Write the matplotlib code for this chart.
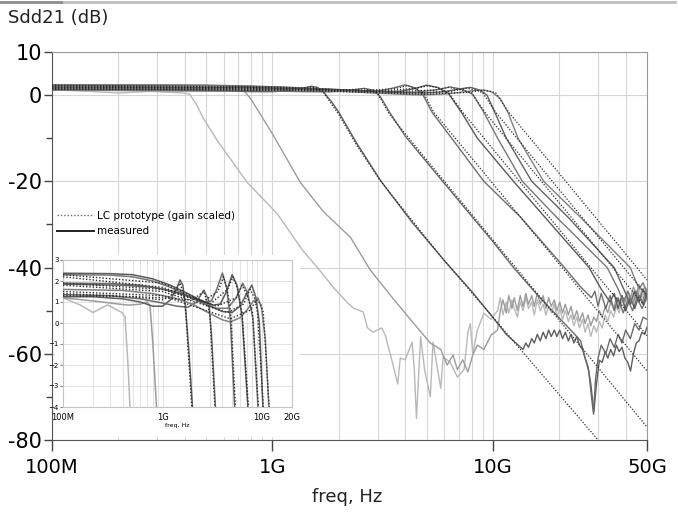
import matplotlib
matplotlib.use("Agg")
import matplotlib.pyplot as plt
from matplotlib.lines import Line2D
from matplotlib.ticker import LogLocator, NullFormatter

plt.rcParams['font.family'] = ['DejaVu Sans']

# all frequencies in GHz, gains in dB
# shared frequency grid for the noisy floor above 10 GHz
band_f = [10.5, 10.8, 11.1, 11.5, 11.8, 12.2, 12.5, 12.9, 13.3, 13.7, 14.1, 14.5, 15.0, 15.4, 15.9, 16.4, 16.9, 17.4,
          17.9, 18.4, 19.0, 19.5, 20.1, 20.7, 21.3, 22.0, 22.6, 23.3, 24.0, 24.7, 25.5, 26.2, 27.0, 27.8, 28.7, 29.5,
          30.4, 31.3, 32.3, 33.2, 34.2, 35.3, 36.3, 37.4, 38.5, 39.7, 40.9, 42.1, 43.4, 44.7, 46.0, 47.4, 48.8, 50.0]

m1_lo_f = [0.1, 0.15, 0.2, 0.28, 0.39, 0.42, 0.45, 0.485, 0.563, 0.77, 1.05, 1.37, 1.6, 1.89, 2.2, 2.33, 2.58, 2.7,
           2.86, 3.13, 3.25, 3.5, 3.7, 3.8, 4.0, 4.3, 4.4, 4.5, 4.7, 4.9, 5.2, 5.35, 5.8, 5.95, 6.4, 6.9, 7.4, 7.7,
           7.9, 8.1, 8.5, 9.1, 9.8]
m1_lo_db = [1.2, 0.85, 0.5, 0.86, 0.5, 0.3, -2.0, -5.3, -10.6, -20.3, -27.5, -36, -40, -44.6, -48.3, -49.4, -50.3, -54,
            -55, -54, -55.7, -62, -67, -61, -61.4, -57.3, -63.7, -75, -56, -63.7, -70, -57.3, -68, -60.7, -62, -65.4,
            -63.7, -55, -53, -60, -54.5, -50.6, -52]
m1_hi_db = [-50, -47, -51, -48, -50.5, -47.5, -49.5, -51.5, -48, -50, -47, -49.5, -48, -51, -47.5, -50, -48.5, -51,
            -49, -50.5, -48.5, -51.5, -49.5, -52, -50, -52.5, -51, -53.5, -51.5, -54, -52, -55, -53, -56, -53.5, -55,
            -52.5, -54, -51, -52.5, -50, -51.5, -49, -50.5, -47.5, -49.5, -46.5, -48.5, -45.5, -47.5, -45, -47, -45.5,
            -46.5]

m2_lo_f = [0.1, 0.2, 0.3, 0.45, 0.6, 0.7, 0.75, 0.8, 0.87, 1.0, 1.34, 1.7, 2.26, 2.78, 3.5, 4.3, 5.2, 5.8, 6.2, 6.6,
           6.9, 7.3, 7.7, 8.1, 8.5, 9.1, 9.8]
m2_lo_db = [1.2, 1.05, 0.95, 0.85, 0.9, 1.0, 0.8, -1.0, -4, -9, -20.3, -27, -33, -40.6, -47, -52.5, -57.5, -59, -62.6,
            -60.3, -63.7, -61.4, -64.2, -60.3, -58, -59, -55.7]
m2_hi_db = [-54.5, -50, -47.5, -50.5, -46.5, -49.5, -47, -50, -46.5, -49, -46, -48.5, -46.5, -49, -46, -48.5, -46.5,
            -49.5, -47, -49, -47.5, -50, -48, -50.5, -48.5, -51, -49, -52, -50, -52.5, -50.5, -53, -51, -53.5, -51.5,
            -52.5, -50, -51.5, -49, -50.5, -48, -49.5, -47, -48.5, -46.5, -48, -45.5, -47, -44.5, -46, -44, -45.5,
            -44.5, -45.5]

m3_lo_f = [0.1, 0.2, 0.4, 0.6, 0.8, 1.0, 1.2, 1.4, 1.5, 1.6, 1.7, 1.85, 2.0, 2.4, 3.1, 4.3, 6.0, 8.0, 9.8, 11.5]
m3_lo_db = [1.25, 1.25, 1.15, 1.0, 0.8, 0.8, 1.1, 1.7, 2.05, 1.8, 0.8, -1.5, -4, -11, -19.9, -29.5, -38.3, -45.5,
            -51, -55.5]
# dark floor, on band_f from 13.7 GHz on
m3_hi_db = [-59, -57.5, -58.5, -56.5, -57.5, -55.5, -57, -55, -56.5, -54.5, -56, -54.5, -56, -54.5, -56.5, -55, -57,
            -55.5, -57.5, -56, -58, -59, -61, -63, -67, -73.5, -67, -61.5, -62, -59.5, -61, -59, -60.5, -58, -59.5,
            -58.5, -61, -62, -64, -60, -57.5, -57, -55, -55.5, -53.8]
p3_f = [0.1, 0.5, 1.0, 1.3, 1.5, 1.62, 1.71, 2.0, 2.4, 3.1, 6.0, 9.8, 30]
p3_db = [1.3, 1.25, 1.1, 1.4, 1.9, 1.4, 0.5, -4.5, -11.5, -20, -38.3, -51, -80]

m4_f = [0.1, 0.3, 0.6, 1.0, 1.4, 1.8, 2.2, 2.6, 2.9, 3.1, 3.4, 4.0, 5.0, 7.0, 10, 12.4, 16, 21.6, 23.5, 25,
        26.2, 27.2, 28, 28.6, 29.2, 30, 31, 32.5, 34, 35.5, 37, 38.5, 40, 42, 44, 46, 48, 50]
m4_db = [1.35, 1.3, 1.15, 0.95, 0.8, 0.75, 1.0, 1.57, 1.1, -0.5, -4, -9.5, -15.5, -24.5, -34, -40, -46.5, -53.5, -55.5,
         -57, -61, -64, -70, -74, -66, -61, -58, -60, -56.5, -58.5, -55.5, -57.5, -54.5, -56.5, -53, -54.5, -51.5, -52]
p4_f = [0.1, 1.0, 2.0, 2.6, 2.85, 3.0, 3.4, 5.0, 10, 21.6, 50]
p4_db = [1.4, 1.2, 1.1, 1.5, 0.9, 0.3, -4.5, -15, -33.6, -54.3, -77]

m5_f = [0.1, 0.3, 0.6, 1.0, 1.5, 2.0, 2.6, 3.1, 3.5, 4.0, 4.4, 4.8, 5.3, 6.5, 9.1, 13.4, 21.1, 25, 28, 29,
        30, 31, 32.5, 34, 35.5, 37, 39, 41, 43, 45, 47.5, 50]
m5_db = [1.9, 1.88, 1.8, 1.62, 1.4, 1.2, 1.0, 1.05, 1.6, 2.38, 1.7, 0.2, -4, -10, -20, -28.4, -40, -44.5, -47, -45.5,
         -49, -46, -49.5, -46.5, -50, -47, -50.5, -47.5, -50, -47, -49.5, -47]
p5_f = [0.1, 1.0, 2.5, 3.6, 4.1, 4.5, 4.85, 5.4, 9.8, 20.6, 50]
p5_db = [1.9, 1.6, 1.0, 1.5, 2.2, 1.5, 0.5, -4, -20, -40, -64]

m6_f = [0.1, 0.3, 0.5, 0.8, 1.2, 1.8, 2.5, 3.2, 3.8, 4.4, 5.0, 5.6, 6.3, 7.2, 8.5, 12.4, 17, 27.3, 31, 34,
        35.5, 37, 38.5, 40, 42, 44, 46, 48, 50]
m6_db = [2.37, 2.35, 2.3, 2.1, 1.8, 1.4, 1.05, 0.85, 0.9, 1.5, 2.3, 1.8, 0.3, -4, -10, -20, -28, -40, -45, -48,
         -46, -49.5, -46.5, -50, -47, -49.5, -46.5, -48.5, -46]
p6_f = [0.1, 1.0, 3.0, 4.5, 5.1, 5.7, 6.3, 7.3, 13.2, 27.8, 50]
p6_db = [2.3, 1.9, 0.9, 1.6, 2.2, 1.6, 0.5, -4, -20, -40, -55.8]

m7_f = [0.1, 0.3, 0.5, 0.8, 1.2, 1.8, 2.5, 3.5, 4.5, 5.5, 6.4, 7.2, 8.1, 9.1, 10.5, 13.6, 19.5, 33, 37, 39,
        41, 43, 45, 47.5, 50]
m7_db = [2.3, 2.28, 2.2, 2.0, 1.7, 1.3, 0.95, 0.7, 0.7, 1.2, 1.9, 1.4, 0.2, -4, -10, -20, -28.4, -40, -45, -48,
         -45.5, -48.5, -45.5, -48, -45]
p7_f = [0.1, 1.0, 3.5, 5.5, 6.3, 7.1, 8.0, 9.2, 16.6, 35, 50]
p7_db = [2.2, 1.7, 0.8, 1.2, 1.8, 1.3, 0.5, -4, -20, -40, -49.6]

m8_f = [0.1, 0.4, 0.8, 1.3, 2.0, 3.0, 4.0, 5.0, 6.0, 7.0, 7.9, 8.7, 9.4, 10.2, 11.5, 15, 22, 35.5, 40, 42,
        44, 46, 48, 50]
m8_db = [1.85, 1.8, 1.7, 1.5, 1.2, 0.8, 0.55, 0.5, 0.8, 1.4, 1.8, 1.2, 0.0, -4, -10, -20, -28.4, -40, -46, -48.5,
         -45.5, -48, -45, -47]
p8_f = [0.1, 1.0, 4.5, 6.5, 7.6, 8.4, 9.0, 10.3, 18.6, 39.2, 50]
p8_db = [1.8, 1.5, 0.5, 0.9, 1.6, 1.2, 0.5, -4, -20, -40, -46.5]

m9_f = [0.1, 0.4, 0.8, 1.3, 2.0, 3.0, 4.0, 4.8, 6.0, 7.0, 8.2, 9.1, 9.9, 10.8, 11.7, 13, 17, 25, 42, 46,
        48, 50]
m9_db = [1.6, 1.55, 1.4, 1.2, 0.9, 0.45, 0.15, 0.05, 0.25, 0.6, 1.05, 1.2, 0.7, -0.8, -4, -10, -20, -28.4, -40, -45,
         -43.5, -46]
p9_f = [0.1, 1.0, 4.8, 7.5, 8.9, 9.7, 10.3, 11.8, 21.4, 45, 50]
p9_db = [1.5, 1.3, 0.2, 0.6, 1.1, 0.9, 0.5, -4, -20, -40, -42.9]

y_ticks = [10, 0, -20, -40, -60, -80]
y_ticklabels = ['10', '0', '-20', '-40', '-60', '-80']
y_minor = [-10, -30, -50, -70]
x_ticks = [1e8, 1e9, 1e10, 5e10]
x_ticklabels = ['100M', '1G', '10G', '50G']
in_xticks = [1e8, 1e9, 1e10, 2e10]
in_xticklabels = ['100M', '1G', '10G', '20G']
in_yticks = [3, 2, 1, 0, -1, -2, -3, -4]

measured = [(m1_lo_f + band_f, m1_lo_db + m1_hi_db, '#b8b8b8'),
            (m2_lo_f + band_f, m2_lo_db + m2_hi_db, '#9c9c9c'),
            (m3_lo_f + band_f[9:], m3_lo_db + m3_hi_db, '#5e5e5e'),
            (m4_f, m4_db, '#6a6a6a'), (m5_f, m5_db, '#6e6e6e'), (m6_f, m6_db, '#5a5a5a'),
            (m7_f, m7_db, '#777777'), (m8_f, m8_db, '#626262'), (m9_f, m9_db, '#808080')]
protos = [(p3_f, p3_db), (p4_f, p4_db), (p5_f, p5_db), (p6_f, p6_db),
          (p7_f, p7_db), (p8_f, p8_db), (p9_f, p9_db)]

GHZ = 1e9
grid_c = '#d6d6d6'
dots = (0, (1, 1.4))

fig = plt.figure(figsize=(6.78, 5.18), dpi=100)
ax = fig.add_axes([52/678, 78/518, 595/678, 388/518])


def draw(a, lw):
    for f, db, c in measured:
        a.plot([v * GHZ for v in f], db, color=c, lw=lw, zorder=3)
    for f, db in protos:
        a.plot([v * GHZ for v in f], db, color='#2a2a2a', lw=lw * 0.9, ls=dots, zorder=4)


draw(ax, 1.0)
ax.set_xscale('log')
ax.set_xlim(1e8, 5e10)
ax.set_ylim(-80, 10)
ax.set_xticks(x_ticks)
ax.set_xticklabels(x_ticklabels)
ax.xaxis.set_minor_locator(LogLocator(base=10, subs=range(2, 10)))
ax.xaxis.set_minor_formatter(NullFormatter())
ax.set_yticks(y_ticks)
ax.set_yticklabels(y_ticklabels)
ax.set_yticks(y_minor, minor=True)
ax.tick_params(axis='x', which='major', length=8, width=1, pad=5, labelsize=14, color='#444')
ax.tick_params(axis='x', which='minor', length=0)
ax.tick_params(axis='y', which='major', length=6, width=1, pad=1, labelsize=15, color='#444')
ax.tick_params(axis='y', which='minor', length=4, width=1, color='#444')
ax.grid(True, axis='x', which='both', color=grid_c, lw=0.8, zorder=0)
ax.grid(True, axis='y', which='major', color=grid_c, lw=0.8, zorder=0)
for s in ('top', 'right'):
    ax.spines[s].set_color('#9a9a9a')
for s in ('left', 'bottom'):
    ax.spines[s].set_color('#555555')

handles = [Line2D([], [], color='#666666', lw=1.0, ls=dots),
           Line2D([], [], color='#222222', lw=1.4)]
ax.legend(handles, ['LC prototype (gain scaled)', 'measured'], loc='upper left',
          bbox_to_anchor=(0.008, 0.59), frameon=False, fontsize=7.5, handlelength=3.6,
          handletextpad=0.3, labelspacing=0.5, borderpad=0, borderaxespad=0)

# white backing behind the inset
back = fig.add_axes([55/678, 1 - 437/518, 245/678, 182/518])
back.set_facecolor('white')
back.set_xticks([])
back.set_yticks([])
for s in back.spines.values():
    s.set_visible(False)

ins = fig.add_axes([63/678, 1 - 407/518, 229/678, 147/518])
draw(ins, 1.1)
ins.set_xscale('log')
ins.set_xlim(1e8, 2e10)
ins.set_ylim(-4, 3)
ins.set_xticks(in_xticks)
ins.set_xticklabels(in_xticklabels)
ins.xaxis.set_minor_locator(LogLocator(base=10, subs=range(2, 10)))
ins.xaxis.set_minor_formatter(NullFormatter())
ins.set_yticks(in_yticks)
ins.tick_params(axis='x', which='major', length=0, pad=4, labelsize=6)
ins.tick_params(axis='x', which='minor', length=0)
ins.tick_params(axis='y', length=2, pad=1, labelsize=5, color='#888')
ins.grid(True, axis='x', which='both', color='#dddddd', lw=0.6)
ins.grid(True, axis='y', color='#dddddd', lw=0.6)
for s in ins.spines.values():
    s.set_color('#c4c4c4')
    s.set_linewidth(0.8)
ins.set_xlabel('freq, Hz', fontsize=4.5, labelpad=1)

fig.text(8/678, 1 - 18/518, 'Sdd21 (dB)', ha='left', va='center', fontsize=13, color='#222')
fig.text(347/678, 1 - 497/518, 'freq, Hz', ha='center', va='center', fontsize=13, color='#222')
fig.add_artist(Line2D([0.09, 0.995], [0.996, 0.996], color='#bdbdbd', lw=2))
fig.add_artist(Line2D([0.0, 0.09], [0.996, 0.996], color='#8c8c8c', lw=2))

fig.savefig('out.png', dpi=100)
